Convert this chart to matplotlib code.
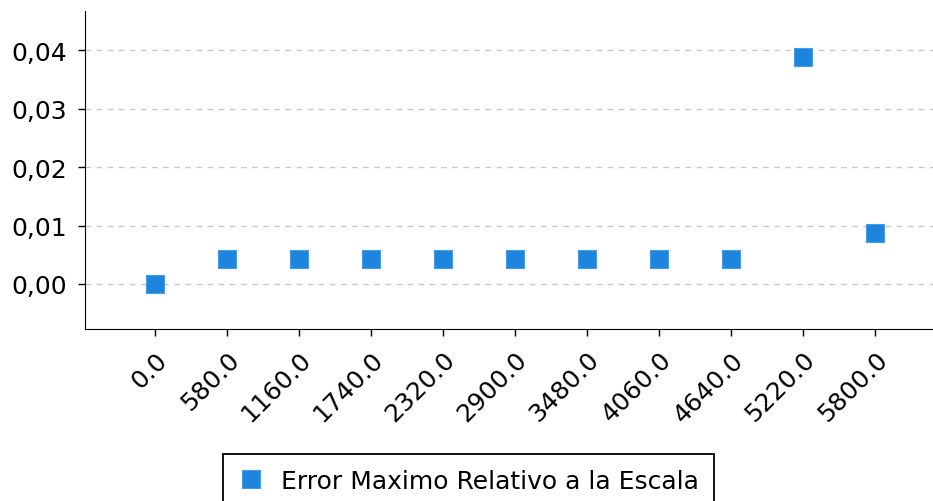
import numpy as np
import matplotlib.pyplot as plt
from matplotlib.ticker import FuncFormatter

# datos
escala = [0.0, 580.0, 1160.0, 1740.0, 2320.0, 2900.0, 3480.0, 4060.0, 4640.0, 5220.0, 5800.0]
error_rel = [0.0, 0.0043, 0.0043, 0.0043, 0.0043, 0.0043, 0.0043, 0.0043, 0.0043, 0.0388, 0.0087]
etiqueta = 'Error Maximo Relativo a la Escala'

plt.rcParams['font.family'] = ['DejaVu Sans']

fig = plt.figure(figsize=(9.33, 5.02), dpi=100)
ax = fig.add_axes([85 / 933, 1 - 330 / 502, 860 / 933, 318 / 502])

ax.plot(escala, error_rel, linestyle='none', marker='s', markersize=13.5,
        color='#1E85DE', markeredgecolor='#4A9BE6', markeredgewidth=0.8,
        label=etiqueta, zorder=3)

ax.set_xlim(-564, 6364)
ax.set_ylim(-0.0077, 0.0467)
ax.set_xticks(escala)
ax.set_xticklabels([str(v) for v in escala], rotation=45, ha='right', va='top',
                   rotation_mode='anchor')
ax.set_yticks(np.arange(0, 0.041, 0.01))
ax.yaxis.set_major_formatter(FuncFormatter(lambda v, p: f'{v:.2f}'.replace('.', ',')))
ax.tick_params(labelsize=18, length=5, width=1, pad=8, colors='black')

ax.grid(axis='y', linestyle='--', color='#c8c8c8', linewidth=1, dashes=(4, 4))
ax.set_axisbelow(True)
ax.spines['top'].set_visible(False)
ax.spines['right'].set_visible(False)

leg = fig.legend(loc='upper center', bbox_to_anchor=(0.502, 1 - 455 / 502), fontsize=18,
                 frameon=True, fancybox=False, edgecolor='black', framealpha=1,
                 handlelength=1.0, handletextpad=0.7, borderpad=0.6, borderaxespad=0)
leg.get_frame().set_linewidth(1.3)

fig.savefig('out.png', dpi=100)
